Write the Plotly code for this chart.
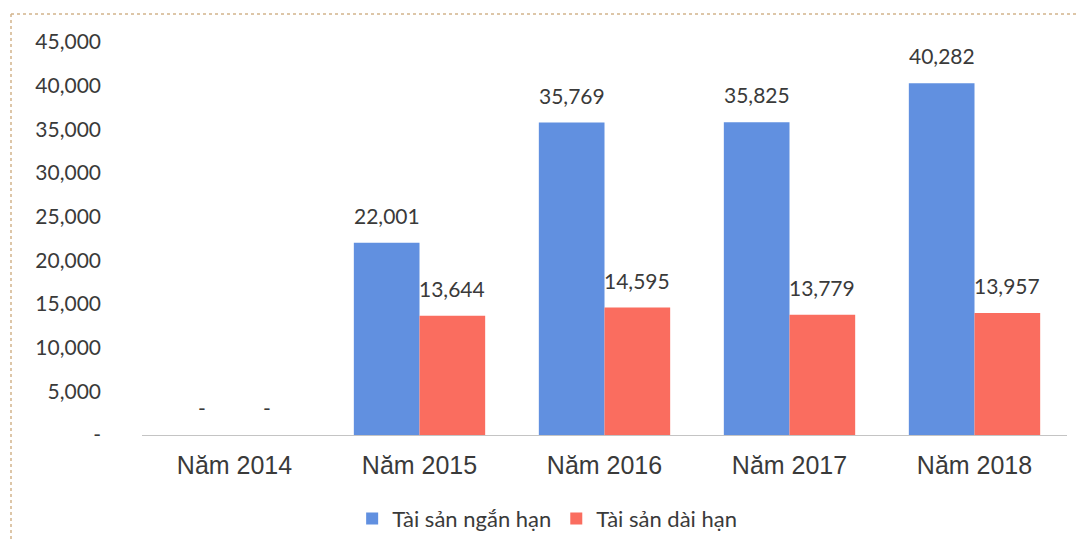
import plotly.graph_objects as go

categories = ["Năm 2014", "Năm 2015", "Năm 2016", "Năm 2017", "Năm 2018"]
short_term = [0, 22001, 35769, 35825, 40282]
long_term = [0, 13644, 14595, 13779, 13957]
series_names = ["Tài sản ngắn hạn", "Tài sản dài hạn"]
y_tick_vals = [0, 5000, 10000, 15000, 20000, 25000, 30000, 35000, 40000, 45000]
y_tick_text = ["-", "5,000", "10,000", "15,000", "20,000", "25,000", "30,000", "35,000", "40,000", "45,000"]

BLUE = "#6190E0"
RED = "#FA6D5F"
TXT = "#3a3a3a"
LATO = "Lato, Open Sans, sans-serif"

L, R, T, B = 142, 11, 42, 113
W, H = 1078, 548
PW, PH = W - L - R, H - T - B
BARGAP = 0.29


def fmt(v):
    return "-" if v == 0 else f"{v:,}"


fig = go.Figure()
fig.add_trace(go.Bar(x=categories, y=short_term, name=series_names[0],
                     marker=dict(color=BLUE, line=dict(width=0))))
fig.add_trace(go.Bar(x=categories, y=long_term, name=series_names[1],
                     marker=dict(color=RED, line=dict(width=0))))

# data labels above each bar
bar_px = PW / len(categories) * (1 - BARGAP) / 2
for series, sign in ((short_term, -1), (long_term, 1)):
    for cat, v in zip(categories, series):
        fig.add_annotation(x=cat, y=v, text=fmt(v), showarrow=False,
                           xanchor="center", yanchor="bottom",
                           xshift=sign * bar_px / 2, yshift=13,
                           font=dict(family=LATO, size=21, color=TXT))

fig.update_layout(
    width=W, height=H,
    margin=dict(l=L, r=R, t=T, b=B, autoexpand=False),
    paper_bgcolor="white", plot_bgcolor="white",
    barmode="group", bargap=BARGAP, bargroupgap=0,
    showlegend=True,
    legend=dict(
        orientation="h", x=0.438, xanchor="center", y=-0.213, yanchor="middle",
        font=dict(family=LATO, size=22, color=TXT),
        itemwidth=30, tracegroupgap=0,
    ),
)
fig.update_xaxes(
    showgrid=False, showline=True, linecolor="#c4c4c4", linewidth=1,
    ticks="", automargin=False,
    tickfont=dict(family="Liberation Sans, Arial, sans-serif", size=25, color=TXT),
    ticklabelstandoff=8,
)
fig.update_yaxes(
    range=[0, 45000], showgrid=False, zeroline=False, showline=False,
    tickvals=y_tick_vals, ticktext=y_tick_text, ticks="", automargin=False,
    tickfont=dict(family=LATO, size=21, color=TXT),
    ticklabelstandoff=40,
)

# frame border (dotted tan, left and top)
fx = (11 - L) / PW
fy_top = 1 + (T - 14) / PH
fig.add_shape(type="line", xref="paper", yref="paper",
              x0=fx, x1=1 + R / PW, y0=fy_top, y1=fy_top,
              line=dict(color="#d2b48c", width=1.5, dash="dot"))
fig.add_shape(type="line", xref="paper", yref="paper",
              x0=fx, x1=fx, y0=fy_top, y1=-(B - 8) / PH,
              line=dict(color="#d2b48c", width=1.5, dash="dot"))

fig.write_html("out.html",
               config={"displayModeBar": False},
               post_script="document.body.style.margin='0';document.body.style.overflow='hidden';")
